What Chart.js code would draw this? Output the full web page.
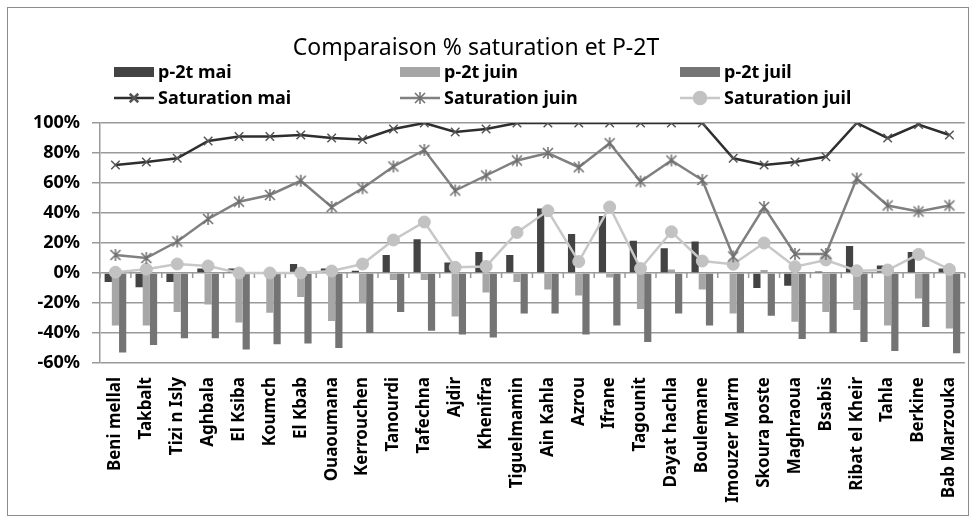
<!DOCTYPE html>
<html>
<head>
<meta charset="utf-8">
<script src="https://cdn.jsdelivr.net/npm/chart.js@4.4.1/dist/chart.umd.min.js"></script>
<style>
  html, body { margin: 0; padding: 0; background: #fff; }
  #wrap { width: 976px; height: 523px; position: relative; }
</style>
</head>
<body>
<div id="wrap"><canvas id="chartSat" width="976" height="523"></canvas></div>
<script>
// Données
const categories = ["Beni mellal", "Takbalt", "Tizi n Isly", "Aghbala", "El Ksiba", "Koumch", "El Kbab",
  "Ouaoumana", "Kerrouchen", "Tanourdi", "Tafechna", "Ajdir", "Khenifra", "Tiguelmamin", "Ain Kahla",
  "Azrou", "Ifrane", "Tagounit", "Dayat hachla", "Boulemane", "Imouzer Marm", "Skoura poste",
  "Maghraoua", "Bsabis", "Ribat el Kheir", "Tahla", "Berkine", "Bab Marzouka"];

const p2tMai = [-6, -9.5, -6, 3, 3, 0, 6, 3, 1.5, 12, 22.5, 7, 14, 12, 43, 26, 38, 21.5, 16.5, 21, 0, -10, -8.5, 1, 18, 5, 14, 3];
const p2tJuin = [-35, -35, -26, -21, -33, -26.5, -16, -32, -20, -4.7, -4.7, -29, -13, -6, -11, -15, -3, -24, 2.4, -11, -27, 2, -32.5, -26, -24.7, -35, -17, -37];
const p2tJuil = [-53, -48, -43.5, -43.5, -51, -47.5, -47, -50, -40, -26, -38.5, -41, -43, -27, -27, -41, -35, -46, -27, -35, -40, -28.5, -44, -40, -46, -52, -36, -53.5];

const satMai = [72, 74, 76.5, 88, 91, 91, 92, 90, 89, 96, 100, 94, 96, 100, 100, 100, 100, 100, 100, 100, 76.5, 72, 74, 77.5, 100, 90, 99, 92];
const satJuin = [12, 10, 21, 36, 47.5, 52, 61.5, 44, 56.5, 71, 82, 55, 65, 75, 80, 70.5, 86.5, 61, 75, 62, 11, 44, 12.7, 12.7, 63, 45, 41, 45];
const satJuil = [0.5, 2.5, 6, 4.7, 0, 0, 0, 1.3, 6, 22, 34, 3.8, 4.4, 27, 41.5, 7.6, 44, 3, 27.5, 8, 5.8, 20, 4.2, 8.7, 1.5, 2, 12.4, 2.4];

const yTicks = [-60, -40, -20, 0, 20, 40, 60, 80, 100];

const FONT = "'Noto Sans', 'DejaVu Sans', sans-serif";

// marqueur astérisque (X + trait vertical) comme dans Excel
function makeAsterisk(color) {
  var c = document.createElement("canvas");
  c.width = 14;
  c.height = 14;
  var g = c.getContext("2d");
  g.strokeStyle = color;
  g.lineWidth = 1.5;
  g.beginPath();
  g.moveTo(2, 2); g.lineTo(12, 12);
  g.moveTo(12, 2); g.lineTo(2, 12);
  g.moveTo(7, 1); g.lineTo(7, 13);
  g.stroke();
  return c;
}
var asterisk = makeAsterisk("#6f6f6f");

// titre, légende en grille, cadre et petits traits sur l'axe 0
const decorPlugin = {
  id: "decor",
  beforeDraw: function (chart) {
    var ctx = chart.ctx;
    ctx.save();
    ctx.fillStyle = "#fff";
    ctx.fillRect(0, 0, chart.width, chart.height);
    ctx.strokeStyle = "#8c8c8c";
    ctx.lineWidth = 1;
    ctx.strokeRect(7.5, 7.5, 961, 508);
    ctx.restore();
  },
  beforeDatasetsDraw: function (chart) {
    var ctx = chart.ctx;
    var xs = chart.scales.x;
    var y0 = chart.scales.y.getPixelForValue(0);
    var step = xs.getPixelForValue(1) - xs.getPixelForValue(0);
    ctx.save();
    ctx.strokeStyle = "#999";
    ctx.lineWidth = 1.5;
    for (var i = 0; i <= categories.length; i++) {
      var x = xs.getPixelForValue(0) - step / 2 + i * step;
      ctx.beginPath();
      ctx.moveTo(x, y0);
      ctx.lineTo(x, y0 + 5);
      ctx.stroke();
    }
    ctx.restore();
  },
  afterDraw: function (chart) {
    var ctx = chart.ctx;
    ctx.save();
    ctx.fillStyle = "#000";
    ctx.font = "23px " + FONT;
    ctx.textAlign = "center";
    ctx.textBaseline = "middle";
    ctx.fillText("Comparaison % saturation et P-2T", 476, 48);

    var cols = [114, 400, 680];
    var rows = [72, 98];
    ctx.font = "bold 18px " + FONT;
    ctx.textAlign = "left";
    chart.data.datasets.forEach(function (ds, i) {
      var x = cols[i % 3];
      var y = rows[Math.floor(i / 3)];
      if (ds.type === "bar") {
        ctx.fillStyle = ds.backgroundColor;
        ctx.fillRect(x, y - 5, 40, 10);
      } else {
        ctx.strokeStyle = ds.borderColor;
        ctx.lineWidth = ds.borderWidth;
        ctx.beginPath();
        ctx.moveTo(x, y);
        ctx.lineTo(x + 40, y);
        ctx.stroke();
        ctx.strokeStyle = ds.pointBorderColor;
        ctx.fillStyle = ds.pointBackgroundColor;
        Chart.helpers.drawPoint(ctx, {
          pointStyle: ds.pointStyle,
          radius: ds.pointRadius,
          rotation: 0,
          borderWidth: ds.pointBorderWidth
        }, x + 20, y);
      }
      ctx.fillStyle = "#000";
      ctx.fillText(ds.label, x + 44, y + 1);
    });
    ctx.restore();
  }
};

const dataSat = {
  labels: categories,
  datasets: [
    { type: "bar", label: "p-2t mai", data: p2tMai, backgroundColor: "#434343", order: 2 },
    { type: "bar", label: "p-2t juin", data: p2tJuin, backgroundColor: "#a6a6a6", order: 2 },
    { type: "bar", label: "p-2t juil", data: p2tJuil, backgroundColor: "#747474", order: 2 },
    {
      type: "line", label: "Saturation mai", data: satMai, order: 1,
      borderColor: "#2e2e2e", borderWidth: 2.5,
      pointStyle: "crossRot", pointRadius: 6, pointBorderWidth: 1.5,
      pointBorderColor: "#555", pointBackgroundColor: "#555"
    },
    {
      type: "line", label: "Saturation juin", data: satJuin, order: 1,
      borderColor: "#808080", borderWidth: 2.5,
      pointStyle: asterisk, pointRadius: 6, pointBorderWidth: 1.5,
      pointBorderColor: "#6f6f6f", pointBackgroundColor: "#6f6f6f"
    },
    {
      type: "line", label: "Saturation juil", data: satJuil, order: 1,
      borderColor: "#c8c8c8", borderWidth: 2.5,
      pointStyle: "circle", pointRadius: 6, pointBorderWidth: 1,
      pointBorderColor: "#c2c2c2", pointBackgroundColor: "#c2c2c2"
    }
  ]
};

const configSat = {
  data: dataSat,
  plugins: [decorPlugin],
  options: {
    responsive: false,
    animation: false,
    layout: { padding: { top: 123, right: 10, left: 0, bottom: 0 } },
    datasets: {
      bar: { categoryPercentage: 0.7, barPercentage: 1.0 },
      line: { tension: 0 }
    },
    plugins: {
      legend: { display: false },
      title: { display: false },
      tooltip: { enabled: false }
    },
    scales: {
      x: {
        offset: true,
        grid: { display: false },
        border: { display: false },
        afterFit: function (scale) { scale.height = 160; },
        ticks: {
          autoSkip: false,
          minRotation: 90,
          maxRotation: 90,
          padding: 6,
          color: "#000",
          font: { family: FONT, size: 17, weight: "bold" }
        }
      },
      y: {
        min: -60,
        max: 100,
        afterFit: function (scale) { scale.width = 100; },
        afterBuildTicks: function (scale) {
          scale.ticks = yTicks.map(function (v) { return { value: v }; });
        },
        grid: { color: "#9a9a9a", lineWidth: 1.5, tickLength: 8 },
        border: { color: "#9a9a9a", width: 1.5 },
        ticks: {
          padding: 12,
          color: "#000",
          font: { family: FONT, size: 18, weight: "bold" },
          callback: function (v) { return v + "%"; }
        }
      }
    }
  }
};

var chartSat = new Chart(document.getElementById("chartSat"), configSat);
</script>
</body>
</html>
